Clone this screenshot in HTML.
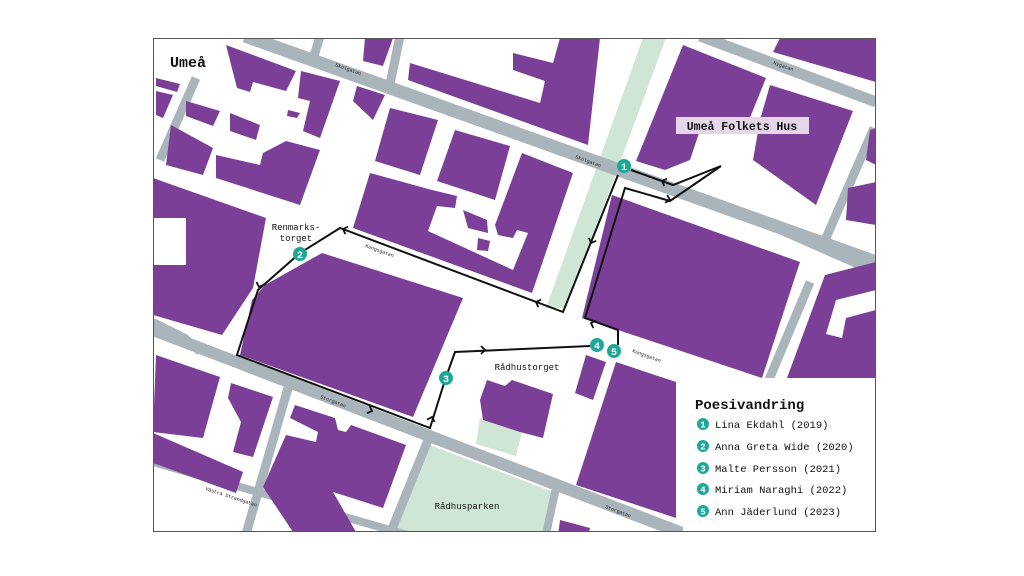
<!DOCTYPE html>
<html><head><meta charset="utf-8"><style>
html,body{margin:0;padding:0;background:#fff;width:1024px;height:576px;overflow:hidden}
svg{display:block}
text{font-family:"Liberation Mono",monospace}
</style></head><body>
<svg width="1024" height="576" viewBox="0 0 1024 576" xmlns="http://www.w3.org/2000/svg">
<defs><clipPath id="c"><rect x="154" y="39" width="721" height="492"/></clipPath></defs>
<rect width="1024" height="576" fill="#fff"/>
<g clip-path="url(#c)">
<g fill="#cfe6d6">
<polygon points="643,38 666,38 566,308 546,308"/>
<polygon points="430,445 553,492 546,532 393,532"/>
<polygon points="480,418 522,432 516,456 476,444"/>
</g>
<g stroke="#a9b4bb" fill="none" stroke-linecap="butt">
<polyline points="245,36 876,262" stroke-width="13"/>
<polyline points="700,36 876,102" stroke-width="11"/>
<polyline points="740,212 876,272" stroke-width="9"/>
<polyline points="196,78 160,160" stroke-width="9"/>
<polyline points="320,36 314,56" stroke-width="9"/>
<polyline points="400,36 390,84" stroke-width="9"/>
<polyline points="874,128 826,238" stroke-width="9"/>
<polyline points="810,282 768,382" stroke-width="9"/>
<polyline points="153,330 690,536" stroke-width="12"/>
<polyline points="153,322 185,338 200,352" stroke-width="8"/>
<polyline points="153,462 425,540" stroke-width="8"/>
<polyline points="288,388 246,534" stroke-width="9"/>
<polyline points="428,440 390,534" stroke-width="9"/>
<polyline points="556,488 546,534" stroke-width="8"/>
</g>
<g fill="#7b3f98">
<polygon points="265,285 322,253 463,298 413,417 240,355 252,300"/>
<polygon points="612,195 800,262 762,378 582,318"/>
<polygon points="683,45 766,78 745,130 700,130 690,160 665,170 636,161"/>
<polygon points="770,85 853,111 816,205 753,160 760,120"/>
<polygon points="780,38 876,38 876,82 773,52"/>
<polygon points="870,130 876,128 876,165 866,160"/>
<polygon points="848,188 876,182 876,225 846,220"/>
<polygon points="825,275 876,262 876,378 787,378"/>
<polygon points="616,362 676,382 676,518 576,485"/>
<polygon points="586,355 606,362 593,400 575,393"/>
<polygon points="487,380 505,386 512,380 553,394 543,438 520,432 483,420 480,400"/>
<polygon points="156,355 220,377 203,438 153,432"/>
<polygon points="231,383 273,397 253,457 233,452 241,422 228,398"/>
<polygon points="153,433 243,472 236,493 153,463"/>
<polygon points="295,405 335,418 338,430 346,432 351,425 406,445 383,508 333,492 356,532 293,532 263,487 286,435 316,442 318,432 290,418"/>
<polygon points="153,178 266,218 253,288 222,335 153,315"/>
<polygon points="226,45 296,71 286,91 253,82 250,92 237,88"/>
<polygon points="301,71 340,81 320,138 303,131 310,101 298,98"/>
<polygon points="156,78 180,84 177,92 156,86"/>
<polygon points="156,91 173,95 163,118 156,115"/>
<polygon points="186,101 220,111 213,126 186,116"/>
<polygon points="230,113 260,125 256,140 230,131"/>
<polygon points="288,110 300,113 297,118 287,116"/>
<polygon points="171,125 213,148 203,175 166,165"/>
<polygon points="216,155 260,165 263,153 286,141 320,150 300,205 216,178"/>
<polygon points="357,86 385,95 373,120 353,101"/>
<polygon points="365,38 393,38 383,66 363,61"/>
<polygon points="410,63 540,103 545,81 513,70 513,53 553,63 560,38 600,38 588,145 408,80"/>
<polygon points="390,108 438,120 420,175 375,161"/>
<polygon points="455,130 510,146 495,200 437,181"/>
<polygon points="370,173 432,190 457,196 455,208 437,206 428,231 513,270 528,233 517,230 513,238 498,235 495,225 522,153 573,173 532,293 353,228"/>
<polygon points="463,210 487,220 488,233 468,228"/>
<polygon points="478,238 490,241 488,251 477,250"/>
<polygon points="560,520 590,528 588,536 558,536"/>
</g>
<g fill="#fff">
<rect x="153" y="218" width="33" height="47"/>
<polygon points="836,300 876,290 876,310 846,318 842,338 826,334"/>
<rect x="683" y="378" width="200" height="160"/>
</g>
<g fill="none" stroke="#111" stroke-width="2" stroke-linejoin="miter">
<polyline points="721,166 673,185 631,170"/>
<polyline points="618,175 563,312 340,228 300,253 258,290 237,355 430,428 445,380 455,352 590,346"/>
<polyline points="721,166 670,201 625,188 585,318 618,330 618,345"/>
</g>
<g fill="none" stroke="#111" stroke-width="1.8">
<path d="M-4,-4 L0,0 L-4,4" transform="translate(662,181) rotate(200)"/>
<path d="M-4,-4 L0,0 L-4,4" transform="translate(670,200) rotate(16)"/>
<path d="M-4,-4 L0,0 L-4,4" transform="translate(591,243) rotate(112)"/>
<path d="M-4,-4 L0,0 L-4,4" transform="translate(536,302) rotate(200)"/>
<path d="M-4,-4 L0,0 L-4,4" transform="translate(343,229) rotate(200)"/>
<path d="M-4,-4 L0,0 L-4,4" transform="translate(259,287) rotate(108)"/>
<path d="M-4,-4 L0,0 L-4,4" transform="translate(372,411) rotate(21)"/>
<path d="M-4,-4 L0,0 L-4,4" transform="translate(432,417) rotate(-73)"/>
<path d="M-4,-4 L0,0 L-4,4" transform="translate(485,350) rotate(0)"/>
<path d="M-4,-4 L0,0 L-4,4" transform="translate(591,323) rotate(200)"/>
</g>
</g>
<rect x="153.5" y="38.5" width="722" height="493" fill="none" stroke="#555" stroke-width="1"/>
<g font-weight="bold" font-size="10" text-anchor="middle" fill="#fff">
<circle cx="624" cy="166" r="7" fill="#1fa79a"/><text x="624" y="170">1</text>
<circle cx="300" cy="254" r="7" fill="#1fa79a"/><text x="300" y="258">2</text>
<circle cx="446" cy="378" r="7" fill="#1fa79a"/><text x="446" y="382">3</text>
<circle cx="597" cy="345" r="7" fill="#1fa79a"/><text x="597" y="349">4</text>
<circle cx="614" cy="351" r="7" fill="#1fa79a"/><text x="614" y="355">5</text>
</g>
<text x="170" y="67" font-size="15" font-weight="bold" fill="#111">Umeå</text>
<rect x="676" y="117" width="133" height="17" fill="#e6d6ea"/>
<text x="742" y="130" font-size="11.5" font-weight="bold" fill="#111" text-anchor="middle">Umeå Folkets Hus</text>
<text x="296" y="230" font-size="9" fill="#111" text-anchor="middle">Renmarks-</text>
<text x="296" y="241" font-size="9" fill="#111" text-anchor="middle">torget</text>
<text x="527" y="370" font-size="9" fill="#111" text-anchor="middle">Rådhustorget</text>
<text x="467" y="509" font-size="9" fill="#111" text-anchor="middle">Rådhusparken</text>
<g font-size="5" fill="#222">
<text transform="translate(335,66) rotate(20)">Skolgatan</text>
<text transform="translate(575,158) rotate(20)">Skolgatan</text>
<text transform="translate(773,64) rotate(20)">Nygatan</text>
<text transform="translate(365,247) rotate(20)">Kungsgatan</text>
<text transform="translate(632,352) rotate(20)">Kungsgatan</text>
<text transform="translate(320,398) rotate(21)">Storgatan</text>
<text transform="translate(605,508) rotate(21)">Storgatan</text>
<text transform="translate(205,490) rotate(18)">Västra Strandgatan</text>
</g>
<text x="695" y="409" font-size="14" font-weight="bold" fill="#111">Poesivandring</text>
<g font-size="10.5" fill="#111">
<g font-weight="bold" font-size="9" text-anchor="middle">
<circle cx="703" cy="424" r="6" fill="#1fa79a"/><text x="703" y="427.5" fill="#fff">1</text>
<circle cx="703" cy="446" r="6" fill="#1fa79a"/><text x="703" y="449.5" fill="#fff">2</text>
<circle cx="703" cy="468" r="6" fill="#1fa79a"/><text x="703" y="471.5" fill="#fff">3</text>
<circle cx="703" cy="489" r="6" fill="#1fa79a"/><text x="703" y="492.5" fill="#fff">4</text>
<circle cx="703" cy="511" r="6" fill="#1fa79a"/><text x="703" y="514.5" fill="#fff">5</text>
</g>
<text x="715" y="428">Lina Ekdahl (2019)</text>
<text x="715" y="450">Anna Greta Wide (2020)</text>
<text x="715" y="472">Malte Persson (2021)</text>
<text x="715" y="493">Miriam Naraghi (2022)</text>
<text x="715" y="515">Ann Jäderlund (2023)</text>
</g>
</svg>
</body></html>
